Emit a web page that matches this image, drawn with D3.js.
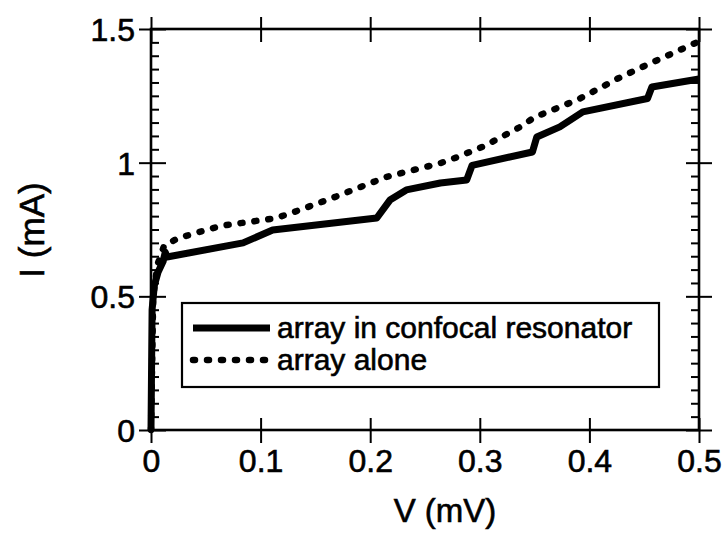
<!DOCTYPE html>
<html><head><meta charset="utf-8">
<script src="https://cdn.jsdelivr.net/npm/d3@7"></script>
<style>body{margin:0;background:#fff}svg{display:block}text{font-family:"Liberation Sans",Arial,Helvetica,sans-serif;fill:#000;stroke:#000;stroke-width:0.6px}</style>
</head><body><svg id="c" width="727" height="538"></svg>
<script>
const resonatorV = [0, 0.001, 0.003, 0.0064, 0.011, 0.013, 0.0146, 0.084, 0.111, 0.206, 0.218, 0.233, 0.264, 0.288, 0.293, 0.348, 0.352, 0.373, 0.394, 0.453, 0.457, 0.5];
const resonatorI = [0, 0.45, 0.54, 0.59, 0.63, 0.665, 0.647, 0.70, 0.748, 0.793, 0.86, 0.898, 0.924, 0.935, 0.99, 1.04, 1.096, 1.134, 1.19, 1.24, 1.283, 1.313];
const aloneV = [0, 0.002, 0.006, 0.012, 0.025, 0.063, 0.113, 0.127, 0.163, 0.215, 0.264, 0.279, 0.303, 0.337, 0.350, 0.389, 0.426, 0.452, 0.498];
const aloneI = [0, 0.5, 0.62, 0.69, 0.718, 0.763, 0.792, 0.81, 0.864, 0.947, 0.998, 1.02, 1.06, 1.134, 1.17, 1.235, 1.315, 1.365, 1.45];
const xTicks = [0, 0.1, 0.2, 0.3, 0.4, 0.5];
const xTickLabels = ["0", "0.1", "0.2", "0.3", "0.4", "0.5"];
const yTicks = [0, 0.5, 1, 1.5];
const yTickLabels = ["0", "0.5", "1", "1.5"];
const seriesNames = ["array in confocal resonator", "array alone"];

const svg = d3.select("#c");
const L = 151, R = 699, T = 29, B = 430;
const x = d3.scaleLinear().domain([0, 0.5]).range([L, R]);
const y = d3.scaleLinear().domain([0, 1.5]).range([B, T]);
const minorY = d3.range(0, 1.5001, 0.05).filter(v => Math.abs(v*2 - Math.round(v*2)) > 1e-6);

function styleAxis(g){ g.select(".domain").remove(); g.selectAll("line").attr("stroke","#000").attr("stroke-width",2); }

const fmtX = (d) => xTickLabels[xTicks.indexOf(d)];
const fmtY = (d) => yTickLabels[yTicks.indexOf(d)];

// bottom
const gb = svg.append("g").attr("transform",`translate(0,${B})`)
  .call(d3.axisBottom(x).tickValues(xTicks).tickFormat(fmtX).tickSize(13).tickPadding(6));
styleAxis(gb); gb.selectAll("text").attr("font-size",32).attr("font-family",null);
gb.append("g").call(d3.axisTop(x).tickValues(xTicks).tickFormat("").tickSize(12)).call(styleAxis);
// top
const gt = svg.append("g").attr("transform",`translate(0,${T})`);
gt.append("g").call(d3.axisTop(x).tickValues(xTicks).tickFormat("").tickSize(12)).call(styleAxis);
gt.append("g").call(d3.axisBottom(x).tickValues(xTicks).tickFormat("").tickSize(13)).call(styleAxis);
// left
const gl = svg.append("g").attr("transform",`translate(${L},0)`)
  .call(d3.axisLeft(y).tickValues(yTicks).tickFormat(fmtY).tickSize(12).tickPadding(4));
styleAxis(gl); gl.selectAll("text").attr("font-size",32).attr("font-family",null).attr("dy","0.36em");
gl.append("g").call(d3.axisRight(y).tickValues(yTicks).tickFormat("").tickSize(15)).call(styleAxis);
gl.append("g").call(d3.axisRight(y).tickValues(minorY).tickFormat("").tickSize(8)).call(styleAxis);
// right
const gr = svg.append("g").attr("transform",`translate(${R},0)`);
gr.append("g").call(d3.axisRight(y).tickValues(yTicks).tickFormat("").tickSize(13)).call(styleAxis);
gr.append("g").call(d3.axisLeft(y).tickValues(yTicks).tickFormat("").tickSize(13)).call(styleAxis);
gr.append("g").call(d3.axisLeft(y).tickValues(minorY).tickFormat("").tickSize(8)).call(styleAxis);

// frame
svg.append("rect").attr("x",L).attr("y",T).attr("width",R-L).attr("height",B-T)
  .attr("fill","none").attr("stroke","#000").attr("stroke-width",2.6);

// axis titles
svg.append("text").attr("x",445).attr("y",522).attr("text-anchor","middle").attr("font-size",33).text("V (mV)");
svg.append("text").attr("transform","translate(44,230) rotate(-90)").attr("text-anchor","middle").attr("font-size",35).text("I (mA)");

// lines
const line = d3.line().x(d=>x(d[0])).y(d=>y(d[1]));
const solid = resonatorV.map((v,i)=>[v,resonatorI[i]]);
const dotted = aloneV.map((v,i)=>[v,aloneI[i]]);
svg.append("path").datum(dotted).attr("d",line).attr("fill","none").attr("stroke","#000")
  .attr("stroke-width",6.5).attr("stroke-linecap","round").attr("stroke-dasharray","2,12");
svg.append("path").datum(solid).attr("d",line).attr("fill","none").attr("stroke","#000")
  .attr("stroke-width",7).attr("stroke-linejoin","round");

// legend
const lg = svg.append("g");
lg.append("rect").attr("x",182).attr("y",303).attr("width",477).attr("height",84)
  .attr("fill","#fff").attr("stroke","#000").attr("stroke-width",2.2);
const rows = [{y:328, dash:null},{y:360, dash:"2,12"}];
rows.forEach((r,i)=>{
  const ln = lg.append("line").attr("x1",193).attr("x2",270).attr("y1",r.y).attr("y2",r.y)
    .attr("stroke","#000").attr("stroke-width", i===0?7:6.5);
  if(r.dash) ln.attr("stroke-dasharray",r.dash).attr("stroke-linecap","round");
  lg.append("text").attr("x",277).attr("y",r.y+10).attr("font-size",30).text(seriesNames[i]);
});
</script></body></html>
